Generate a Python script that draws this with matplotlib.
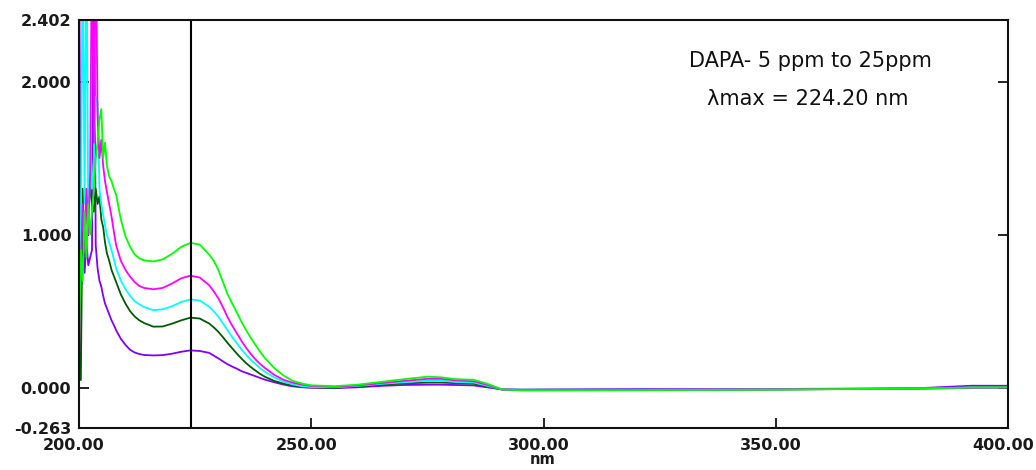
import matplotlib
matplotlib.use("Agg")
import matplotlib.pyplot as plt
from matplotlib.transforms import ScaledTranslation

# wavelength grid (nm)
wavelength = [200.0, 200.4, 200.8, 201.2, 201.6, 202.0, 202.4, 202.8, 203.2, 203.6,
              204.0, 204.4, 204.8, 205.2, 205.6, 206.0, 206.5, 207.0, 207.5,
              208, 209, 210, 211, 212, 213, 214, 216, 218, 220, 222, 224, 226, 228,
              229, 230, 231, 232, 233, 234, 235, 236, 237, 238, 239, 240, 242, 244,
              246, 248, 250,
              255, 260, 265, 270, 275, 278, 281, 285, 288, 291, 295, 320, 350, 380,
              390, 392, 400]

# absorbance, 5 ppm .. 25 ppm
abs_5ppm = [3.0, 0.6, 1.1, 0.75, 0.95, 0.8, 0.85, 0.9, 3.0, 0.93,
            0.78, 0.7, 0.66, 0.6, 0.55, 0.52, 0.48, 0.44, 0.41,
            0.375, 0.32, 0.28, 0.248, 0.23, 0.22, 0.214, 0.211, 0.213, 0.222, 0.235, 0.244, 0.24, 0.228,
            0.21, 0.192, 0.172, 0.153, 0.138, 0.124, 0.108, 0.097, 0.086, 0.075, 0.064, 0.053, 0.036, 0.021,
            0.009, 0.003, 0.0,
            -0.003, 0.003, 0.012, 0.018, 0.02, 0.02, 0.018, 0.015, 0.002, -0.01, -0.012, -0.008, -0.008, -0.004,
            0.01, 0.013, 0.013]
abs_10ppm = [2.18, 0.05, 1.3, 0.9, 1.25, 1.1, 1.35, 1.2, 1.15, 1.3,
             1.2, 1.25, 1.1, 1.05, 0.95, 0.88, 0.83, 0.77, 0.73,
             0.69, 0.61, 0.55, 0.5, 0.465, 0.44, 0.423, 0.399, 0.4, 0.418, 0.44, 0.458, 0.452, 0.42,
             0.395, 0.365, 0.33, 0.292, 0.257, 0.222, 0.19, 0.16, 0.135, 0.112, 0.09, 0.072, 0.045, 0.027,
             0.014, 0.005, 0.002,
             0.0, 0.008, 0.02, 0.028, 0.034, 0.034, 0.03, 0.026, 0.008, -0.012, -0.016, -0.015, -0.012, -0.006,
             -0.002, 0.0, 0.002]
abs_15ppm = [0.4, 1.0, 3.0, 1.2, 3.0, 1.1, 1.4, 1.3, 1.5, 1.9,
             1.87, 1.3, 1.2, 1.13, 1.06, 1.0, 0.95, 0.9, 0.84,
             0.78, 0.7, 0.645, 0.6, 0.565, 0.545, 0.527, 0.507, 0.512, 0.532, 0.56, 0.577, 0.57, 0.53,
             0.5, 0.465, 0.42, 0.375, 0.33, 0.29, 0.25, 0.215, 0.182, 0.155, 0.128, 0.105, 0.068, 0.04,
             0.022, 0.01, 0.005,
             0.003, 0.012, 0.025, 0.036, 0.046, 0.046, 0.038, 0.034, 0.012, -0.01, -0.013, -0.012, -0.01, -0.005,
             0.0, 0.0, 0.002]
abs_20ppm = [0.17, 0.8, 1.2, 0.9, 1.3, 1.0, 1.4, 3.0, 1.6, 3.0,
             1.78, 1.5, 1.62, 1.45, 1.35, 1.28, 1.2, 1.12, 1.02,
             0.93, 0.83, 0.77, 0.725, 0.69, 0.665, 0.652, 0.643, 0.652, 0.68, 0.715, 0.732, 0.72, 0.67,
             0.63, 0.585, 0.525, 0.46, 0.405, 0.355, 0.305, 0.26, 0.22, 0.185, 0.155, 0.13, 0.085, 0.052,
             0.033, 0.02, 0.012,
             0.006, 0.015, 0.03, 0.045, 0.058, 0.058, 0.048, 0.042, 0.018, -0.01, -0.014, -0.012, -0.01, -0.005,
             0.0, 0.0, 0.002]
abs_25ppm = [0.235, 0.9, 0.7, 1.15, 0.85, 1.2, 1.0, 1.15, 1.3, 1.5,
             1.6, 1.75, 1.82, 1.5, 1.6, 1.45, 1.38, 1.35, 1.3,
             1.26, 1.1, 0.99, 0.92, 0.87, 0.845, 0.832, 0.825, 0.838, 0.874, 0.92, 0.946, 0.935, 0.87,
             0.83, 0.77, 0.69, 0.61, 0.55, 0.49, 0.43, 0.375, 0.325, 0.28, 0.235, 0.195, 0.13, 0.08,
             0.045, 0.027, 0.016,
             0.01, 0.02, 0.038, 0.056, 0.072, 0.068, 0.056, 0.052, 0.025, -0.01, -0.017, -0.016, -0.012, -0.005,
             0.0, 0.002, 0.003]

lambda_max = 224.20
x_ticks = [200, 250, 300, 350, 400]
x_ticklabels = ["200.00", "250.00", "300.00", "350.00", "400.00"]
y_ticks = [-0.263, 0.0, 1.0, 2.0, 2.402]
y_ticklabels = ["-0.263", "0.000", "1.000", "2.000", "2.402"]

series = [abs_5ppm, abs_10ppm, abs_15ppm, abs_20ppm, abs_25ppm]
colors = ["#8000ff", "#005a00", "#00ffff", "#ff00ff", "#00ff00"]

fig = plt.figure(figsize=(10.36, 4.70), dpi=100)
ax = fig.add_axes([79 / 1036, 42 / 470, 929 / 1036, 408 / 470])

for vals, c in zip(series, colors):
    ax.plot(wavelength, vals, color=c, lw=1.3)

ax.axvline(lambda_max, color="black", lw=1.5)

ax.set_xlim(200, 400)
ax.set_ylim(-0.263, 2.402)

ax.set_xticks(x_ticks)
ax.set_xticklabels(x_ticklabels)
ax.set_yticks(y_ticks)
ax.set_yticklabels(y_ticklabels)

ax.tick_params(axis="both", direction="in", length=7, width=1.2, color="black",
               labelsize=11.5, labelcolor="#1a1a1a")
ax.tick_params(axis="y", right=True, pad=5.5)
ax.tick_params(axis="x", pad=7)
for lab in ax.get_xticklabels() + ax.get_yticklabels():
    lab.set_fontweight("bold")
for lab in ax.get_xticklabels():
    lab.set_transform(lab.get_transform() + ScaledTranslation(-5 / 100, 0, fig.dpi_scale_trans))

for s in ax.spines.values():
    s.set_linewidth(1.5)
    s.set_color("#111111")

ax.text(0.787, 0.90, "DAPA- 5 ppm to 25ppm", transform=ax.transAxes,
        ha="center", va="center", fontsize=15, color="#111111")
ax.text(0.784, 0.806, "λmax = 224.20 nm", transform=ax.transAxes,
        ha="center", va="center", fontsize=15, color="#111111")

fig.text(543 / 1036, 1 - 460 / 470, "nm", ha="center", va="center",
         fontsize=10.5, fontweight="bold", color="#1a1a1a")

fig.savefig("out.png", dpi=100)
